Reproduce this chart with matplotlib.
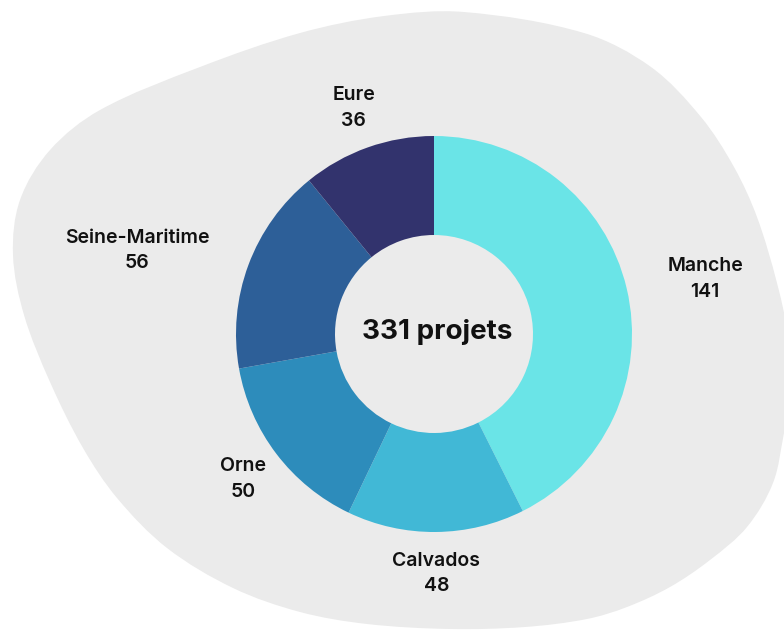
"""Donut chart of projects per Normandy department, drawn on a grey blob."""

import matplotlib

matplotlib.use("Agg")
import matplotlib.pyplot as plt
import numpy as np
from matplotlib.path import Path
from matplotlib.patches import PathPatch

departments = ["Manche", "Calvados", "Orne", "Seine-Maritime", "Eure"]
projects = [141, 48, 50, 56, 36]
colors = ["#6AE4E7", "#41B8D6", "#2D8CBB", "#2D5F98", "#32336D"]

# outline of the decorative background shape (pixel coords, y from top)
blob_outline = [
    (464, 12), (584, 33), (651, 67), (701, 117), (734, 167), (757, 217),
    (777, 283), (789, 340), (792, 390), (784, 433), (773, 483), (747, 527),
    (710, 560), (670, 587), (627, 607), (587, 619), (525, 627), (450, 629),
    (367, 624), (300, 612), (233, 588), (167, 548), (117, 498), (83, 448),
    (50, 382), (24, 315), (13, 255), (20, 200), (50, 150), (100, 110),
    (200, 67), (300, 33), (384, 16),
]

W, H = 784, 635
plt.rcParams["font.family"] = ["Inter", "DejaVu Sans"]


def smooth_closed_path(points):
    # smooth closed curve through the points; tangent lengths follow chord lengths
    pts = np.array([(x, H - y) for x, y in points], dtype=float)
    n = len(pts)
    tangents = []
    for i in range(n):
        d = pts[(i + 1) % n] - pts[i - 1]
        tangents.append(d / np.linalg.norm(d))
    verts = [pts[0]]
    codes = [Path.MOVETO]
    for i in range(n):
        j = (i + 1) % n
        chord = np.linalg.norm(pts[j] - pts[i])
        verts += [pts[i] + tangents[i] * chord / 3, pts[j] - tangents[j] * chord / 3, pts[j]]
        codes += [Path.CURVE4] * 3
    return Path(verts, codes)


fig = plt.figure(figsize=(W / 100, H / 100), dpi=100)
ax = fig.add_axes([0, 0, 1, 1])

ax.add_patch(PathPatch(smooth_closed_path(blob_outline), facecolor="#EBEBEB", edgecolor="none"))

cx, cy, radius = 434, H - 334, 198
wedges, _ = ax.pie(
    projects,
    colors=colors,
    startangle=90,
    counterclock=False,
    center=(cx, cy),
    radius=radius,
    wedgeprops=dict(width=radius * 0.5, linewidth=0),
    frame=True,
)
ax.set_xlim(0, W)
ax.set_ylim(0, H)
ax.set_aspect("equal")
ax.axis("off")

for wedge, name, value in zip(wedges, departments, projects):
    mid = np.deg2rad((wedge.theta1 + wedge.theta2) / 2)
    x = cx + 1.21 * radius * np.cos(mid)
    y = cy + 1.21 * radius * np.sin(mid)
    if np.cos(mid) > 0.85:
        ha = "left"
    elif np.cos(mid) < -0.85:
        ha = "right"
    else:
        ha = "center"
    ax.text(x, y, f"{name}\n{value}", ha=ha, va="center", multialignment="center",
            fontsize=14, fontweight="semibold", color="#111111", linespacing=1.55)

ax.text(cx + 3, cy + 2, f"{sum(projects)} projets", ha="center", va="center",
        fontsize=20, fontweight="bold", color="#111111")

fig.savefig("out.png", dpi=100)
